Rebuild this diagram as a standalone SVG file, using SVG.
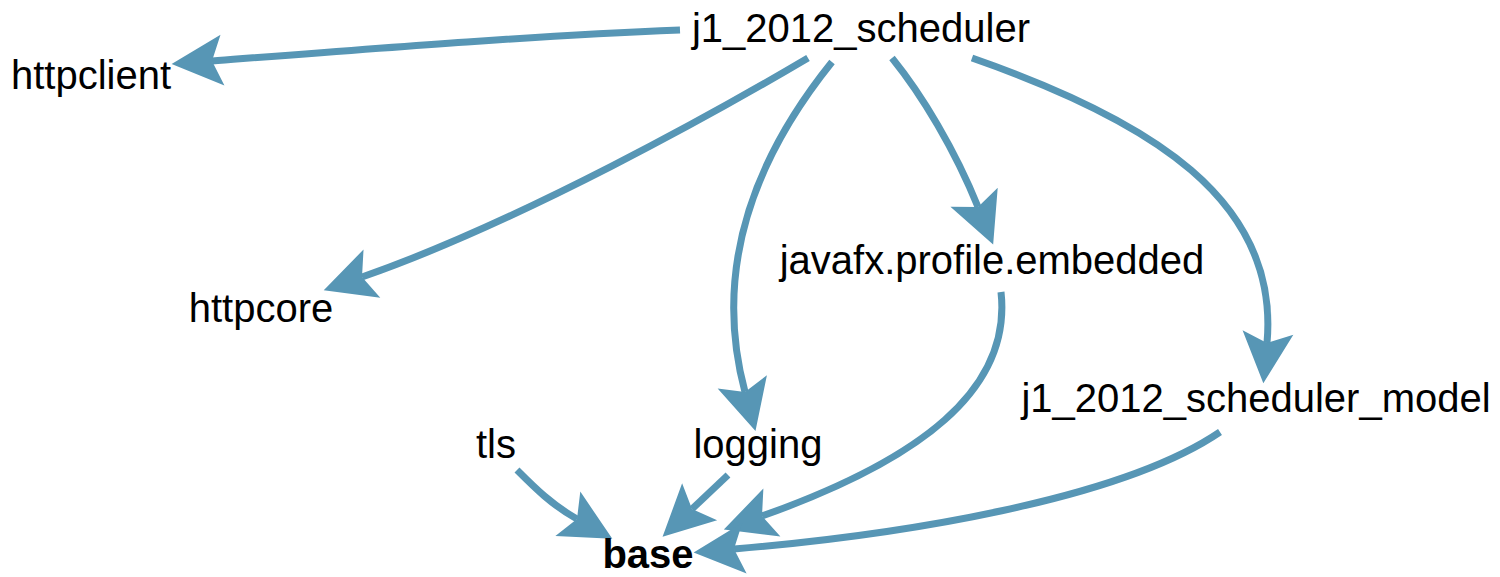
<svg xmlns="http://www.w3.org/2000/svg" width="1500" height="577" viewBox="0 0 1500 577">
  <style>
    .label { font-family: "Liberation Sans", Arial, Helvetica, sans-serif; font-size: 40px; fill: #000; text-anchor: middle; }
    .bold { font-weight: bold; }
    .edge { fill: none; stroke: #5796b5; stroke-width: 7; marker-end: url(#arrow); }
  </style>
  <defs>
    <!-- notched arrowhead: path ends at the notch (origin), tip 27px ahead -->
    <marker id="arrow" markerUnits="userSpaceOnUse" markerWidth="60" markerHeight="60" refX="0" refY="0" viewBox="-10 -20 40 40" orient="auto" overflow="visible">
      <path d="M 27 0 L -7 -17 L 0 0 L -7 17 Z" fill="#5796b5"/>
    </marker>
  </defs>

  <g id="edges">
    <path class="edge" d="M 680 30 C 530 36, 380 48, 212 61"/>
    <path class="edge" d="M 808 58 C 720 110, 520 222, 362 277"/>
    <path class="edge" d="M 832 62 C 745 170, 715 280, 745 392"/>
    <path class="edge" d="M 892 58 C 922 95, 955 150, 978 207"/>
    <path class="edge" d="M 972 58 C 1150 120, 1280 200, 1267 343"/>
    <path class="edge" d="M 1001 292 C 1012 390, 920 460, 762 516"/>
    <path class="edge" d="M 1220 432 C 1120 500, 900 535, 734 549"/>
    <path class="edge" d="M 517 470 C 535 488, 552 505, 577 519"/>
    <path class="edge" d="M 728 475 L 692 509"/>
  </g>

  <g id="j1_2012_scheduler"><text class="label" x="861" y="42">j1_2012_scheduler</text></g>
  <g id="httpclient"><text class="label" x="91" y="89">httpclient</text></g>
  <g id="httpcore"><text class="label" x="261" y="322">httpcore</text></g>
  <g id="javafx.profile.embedded"><text class="label" x="992" y="274">javafx.profile.embedded</text></g>
  <g id="j1_2012_scheduler_model"><text class="label" x="1256" y="412">j1_2012_scheduler_model</text></g>
  <g id="tls"><text class="label" x="496" y="458">tls</text></g>
  <g id="logging"><text class="label" x="758" y="458">logging</text></g>
  <g id="base"><text class="label bold" x="648" y="568">base</text></g>
</svg>
